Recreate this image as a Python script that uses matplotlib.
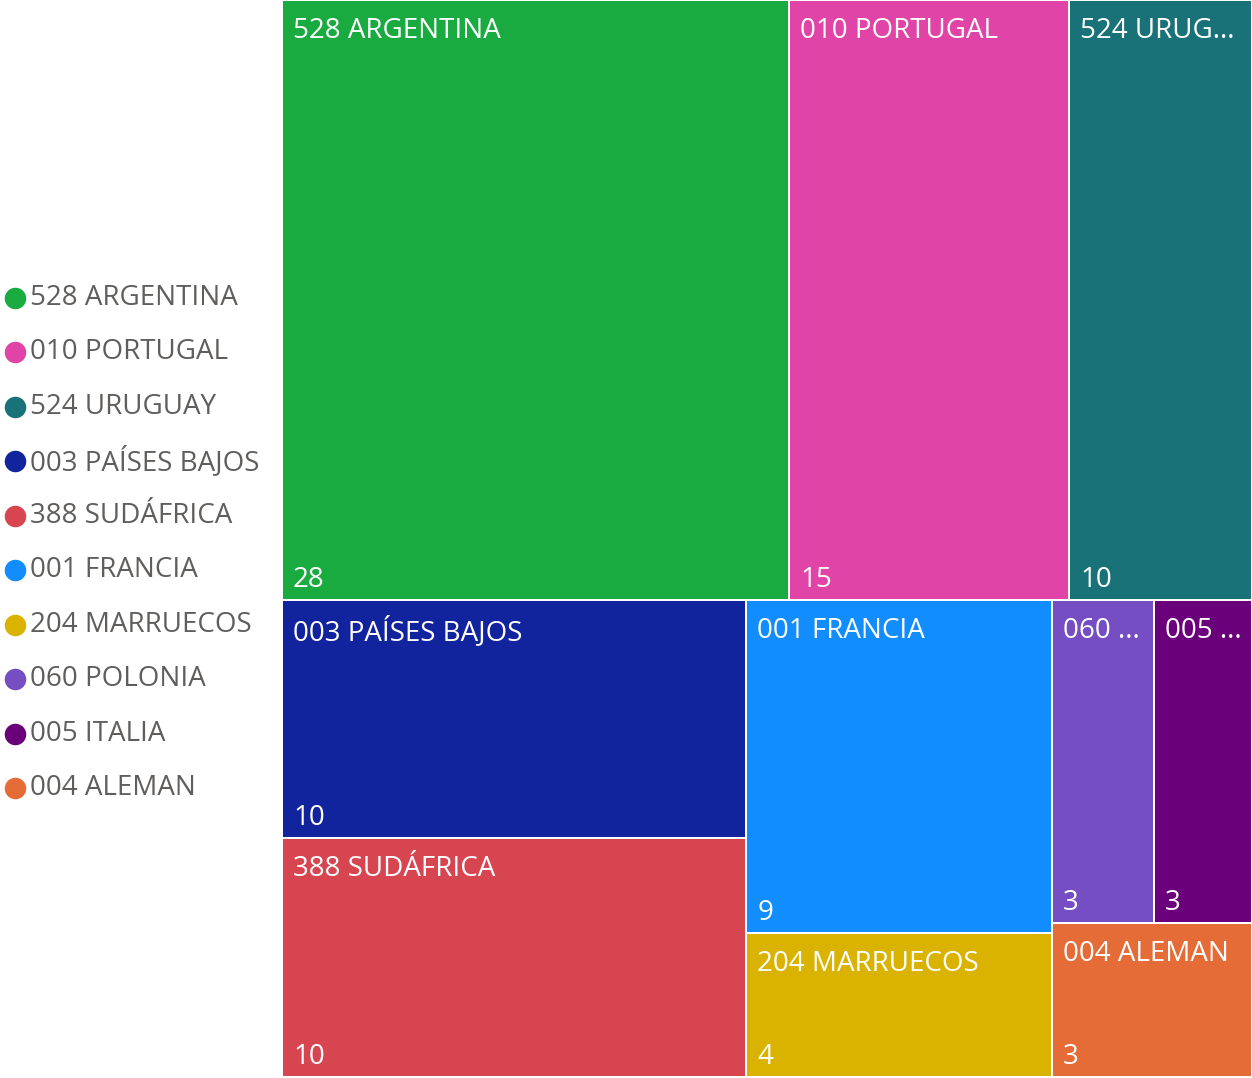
import matplotlib
matplotlib.use("Agg")
import matplotlib.pyplot as plt
from matplotlib.patches import Rectangle

plt.rcParams["font.family"] = ["Open Sans", "DejaVu Sans"]

# data
names = [
    "528 ARGENTINA",
    "010 PORTUGAL",
    "524 URUGUAY",
    "003 PAÍSES BAJOS",
    "388 SUDÁFRICA",
    "001 FRANCIA",
    "204 MARRUECOS",
    "060 POLONIA",
    "005 ITALIA",
    "004 ALEMAN",
]
values = [27.7, 15.3, 10.0, 10.1, 10.1, 9.3, 4.0, 3.0, 2.9, 2.8]
colors = [
    "#1AAB40",
    "#E044A7",
    "#197278",
    "#12239E",
    "#D64550",
    "#118DFF",
    "#D9B300",
    "#744EC2",
    "#6B007B",
    "#E66C37",
]

# how the tiles are grouped ("h" = side by side, "v" = stacked)
layout = ("v", [
    ("h", [0, 1, 2]),
    ("h", [("v", [3, 4]), ("v", [5, 6]), ("v", [("h", [7, 8]), 9])]),
])


def total(node):
    if isinstance(node, int):
        return values[node]
    return sum(total(c) for c in node[1])


def place(node, x, y, w, h, out):
    if isinstance(node, int):
        out[node] = (x, y, w, h)
        return
    kind, kids = node
    t = total(node)
    for c in kids:
        f = total(c) / t
        if kind == "h":
            place(c, x, y, w * f, h, out)
            x += w * f
        else:
            place(c, x, y, w, h * f, out)
            y += h * f


W, H = 1252, 1078
fig = plt.figure(figsize=(W / 100, H / 100), dpi=100)
fig.patch.set_facecolor("white")

# treemap area in pixels
tx, ty, tw, th = 282, 0, 970, 1077
ax = fig.add_axes([tx / W, 1 - (ty + th) / H, tw / W, th / H])
ax.set_xlim(0, tw)
ax.set_ylim(th, 0)
ax.set_axis_off()

rects = {}
place(layout, 0, 0, tw, th, rects)

fig.canvas.draw()
renderer = fig.canvas.get_renderer()
fs = 20
pad = 10


def fit(label, maxw):
    t = ax.text(0, 0, label, fontsize=fs)
    if t.get_window_extent(renderer).width <= maxw:
        t.remove()
        return label
    s = label
    while len(s) > 1:
        s = s[:-1]
        t.set_text(s + "...")
        if t.get_window_extent(renderer).width <= maxw:
            break
    t.remove()
    return s + "..."


for i, (x, y, w, h) in rects.items():
    ax.add_patch(Rectangle((x + 1, y + 1), w - 2, h - 2, facecolor=colors[i],
                           edgecolor="none"))
    ax.text(x + pad + 1, y + 17, fit(names[i], w - 2 * pad), fontsize=fs,
            color="white", ha="left", va="top")
    ax.text(x + pad + 1, y + h - 13, f"{values[i]:.0f}", fontsize=fs,
            color="white", ha="left", va="baseline")

# legend
lax = fig.add_axes([0, 0, tx / W, 1])
lax.set_xlim(0, tx)
lax.set_ylim(H, 0)
lax.set_axis_off()
row = 54.5
y0 = 543 - row * (len(names) - 1) / 2
for i, n in enumerate(names):
    yy = y0 + i * row
    lax.plot(15, yy, "o", ms=15.5, color=colors[i], mec="none")
    lax.text(30, yy, n, fontsize=fs, color="#605E5C", ha="left", va="center")

fig.savefig("out.png", dpi=100)
